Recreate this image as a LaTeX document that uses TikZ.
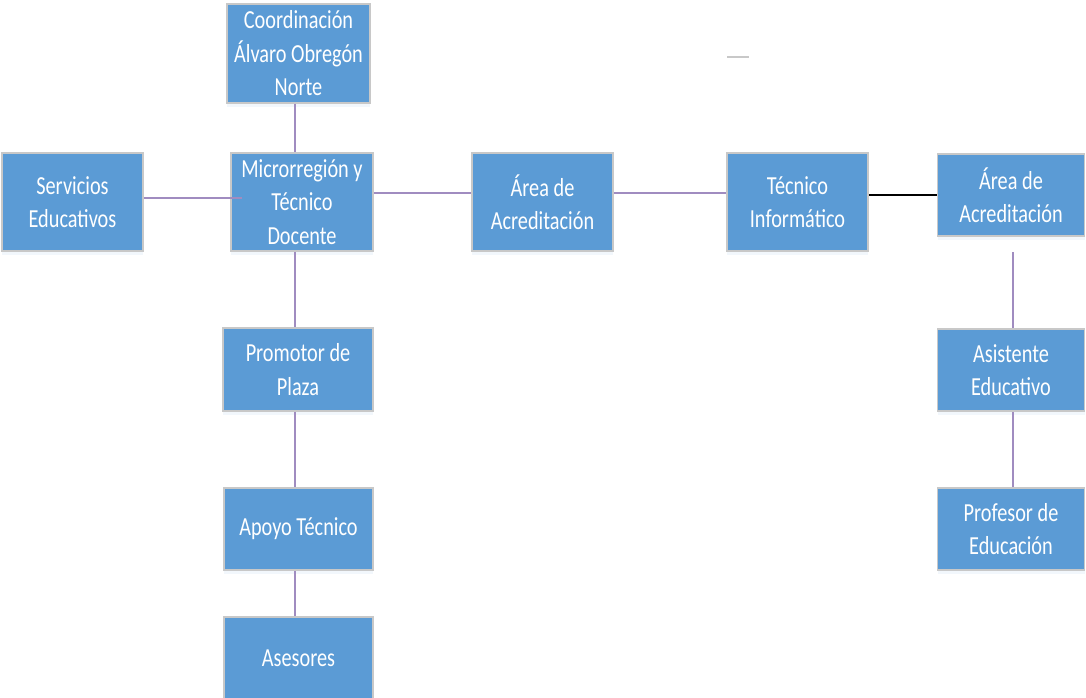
\documentclass[tikz,border=0pt]{standalone}
\usepackage{fontspec}
\setmainfont{Carlito}[FakeStretch=0.78]
\usetikzlibrary{shadows}
\definecolor{boxblue}{HTML}{5B9BD5}
\definecolor{boxedge}{HTML}{C8C8C8}
\definecolor{linkc}{HTML}{A08CC0}
\tikzset{
  orgbox/.style={draw=boxedge, line width=1.5pt, fill=boxblue, text=white,
    inner sep=0pt, align=center, font=\fontsize{26}{33.5}\selectfont,
    drop shadow={opacity=0.08, shadow xshift=0pt, shadow yshift=-4pt, fill=boxblue}},
  link/.style={draw=linkc, line width=1.8pt},
  blink/.style={draw=black, line width=1.8pt}
}
\begin{document}
\begin{tikzpicture}[x=1pt,y=-1pt]
\useasboundingbox (0,0) rectangle (1086,698);
\node[orgbox, minimum width=143pt, minimum height=99pt] (coord) at (298.5,53.5) {Coordinación\\Álvaro Obregón\\Norte};
\node[orgbox, minimum width=141pt, minimum height=98pt] (serv) at (72.5,202) {Servicios\\Educativos};
\node[orgbox, minimum width=142pt, minimum height=98pt] (micro) at (302,202) {Microrregión y\\Técnico\\Docente};
\node[orgbox, minimum width=141pt, minimum height=98pt] (area1) at (542.5,202) {Área de\\Acreditación};
\node[orgbox, minimum width=141pt, minimum height=98pt] (tec) at (797.5,202) {Técnico\\Informático};
\node[orgbox, minimum width=147pt, minimum height=82pt] (area2) at (1011,195) {Área de\\Acreditación};
\node[orgbox, minimum width=147pt, minimum height=82pt] (asis) at (1011,370) {Asistente\\Educativo};
\node[orgbox, minimum width=147pt, minimum height=82pt] (prof) at (1011,529) {Profesor de\\Educación};
\node[orgbox, minimum width=150pt, minimum height=83pt] (prom) at (298,369.5) {Promotor de\\Plaza};
\node[orgbox, minimum width=149pt, minimum height=82pt] (apoyo) at (298.5,529) {Apoyo Técnico};
\node[orgbox, minimum width=149pt, minimum height=82pt] (ases) at (298.5,658) {Asesores};
% connector anchors
\coordinate (colL) at (295,0);
\coordinate (colR) at (1013,0);
\coordinate (mstub) at (242,198);
\coordinate (a2top) at (1013,252);
\coordinate (markA) at (727,57);
\coordinate (markB) at (749,57);
% connectors
\draw[link] (coord.south -| colL) -- (micro.north -| colL);
\draw[link] (serv.east |- mstub) -- (mstub);
\draw[link] ([yshift=9pt]micro.east) -- ([yshift=9pt]area1.west);
\draw[link] ([yshift=9pt]area1.east) -- ([yshift=9pt]tec.west);
\draw[blink] (area2.west -| tec.east) -- (area2.west);
\draw[link] (micro.south -| colL) -- (prom.north -| colL);
\draw[link] (prom.south -| colL) -- (apoyo.north -| colL);
\draw[link] (apoyo.south -| colL) -- (ases.north -| colL);
\draw[link] (a2top) -- (asis.north -| a2top);
\draw[link] (asis.south -| colR) -- (prof.north -| colR);
\draw[draw=boxedge, line width=2pt] (markA) -- (markB);
\end{tikzpicture}
\end{document}
